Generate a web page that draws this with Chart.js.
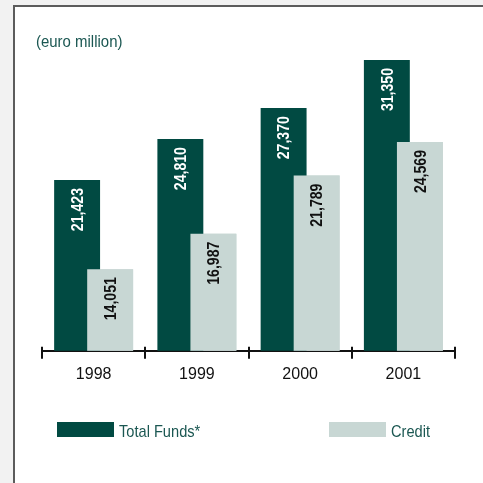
<!DOCTYPE html>
<html>
<head>
<meta charset="utf-8">
<script src="https://cdn.jsdelivr.net/npm/chart.js@4"></script>
<style>
  html, body { margin: 0; padding: 0; width: 483px; height: 483px; overflow: hidden; background: #f2f2f2; }
  #panel { position: absolute; left: 13px; top: 5px; right: 0; bottom: 0; background: #fff;
           border-left: 2px solid #5c5c5c; border-top: 2px solid #5c5c5c; }
  #chart { position: absolute; left: 0; top: 0; }
</style>
</head>
<body>
<div id="panel"></div>
<canvas id="chart" width="483" height="483"></canvas>
<script>
// Yearly totals, euro million
const years = ['1998', '1999', '2000', '2001'];
const totalFunds = [21423, 24810, 27370, 31350];
const credit = [14051, 16987, 21789, 24569];
const seriesNames = ['Total Funds*', 'Credit'];
const unitLabel = '(euro million)';

const DARK = '#014a42';
const LIGHT = '#c8d7d4';
const TEAL_TEXT = '#1b5752';
const SANS = '"Liberation Sans", Arial, sans-serif';

const fmt = v => v.toLocaleString('en-US');

// Draw text horizontally condensed (narrow-face look) at the given origin
function narrowText(ctx, text, x, y, squeeze) {
  ctx.save();
  ctx.translate(x, y);
  ctx.scale(squeeze, 1);
  ctx.fillText(text, 0, 0);
  ctx.restore();
}

// Credit bars sit in front of the funds bars they overlap,
// then each bar gets its rotated value label just inside its top
const barsFrontAndLabels = {
  id: 'barsFrontAndLabels',
  afterDatasetsDraw(chart) {
    const ctx = chart.ctx;
    const area = chart.chartArea;
    ctx.save();
    ctx.beginPath();
    ctx.rect(area.left, area.top, area.right - area.left, area.bottom - area.top);
    ctx.clip();
    chart.getDatasetMeta(1).controller.draw();
    ctx.restore();

    chart.data.datasets.forEach((ds, di) => {
      const meta = chart.getDatasetMeta(di);
      meta.data.forEach((bar, i) => {
        ctx.save();
        ctx.translate(bar.x + 1, bar.y + 8);
        ctx.rotate(-Math.PI / 2);
        ctx.font = 'bold 17px ' + SANS;
        ctx.fillStyle = di === 0 ? '#ffffff' : '#111111';
        ctx.textAlign = 'right';
        ctx.textBaseline = 'middle';
        narrowText(ctx, fmt(ds.data[i]), 0, 0, 0.83);
        ctx.restore();
      });
    });
  }
};

// Short tick marks across the baseline at every category boundary
const boundaryTicks = {
  id: 'boundaryTicks',
  afterDraw(chart) {
    const x = chart.scales.x;
    const ctx = chart.ctx;
    const n = x.ticks.length;
    const y = chart.chartArea.bottom;
    ctx.save();
    ctx.strokeStyle = '#111';
    ctx.lineWidth = 2;
    for (let i = 0; i <= n; i++) {
      const px = Math.round(x.left + (x.width * i) / n);
      ctx.beginPath();
      ctx.moveTo(px, y - 4);
      ctx.lineTo(px, y + 8);
      ctx.stroke();
    }
    ctx.restore();
  }
};

// Unit caption and legend drawn on the canvas
const captionAndLegend = {
  id: 'captionAndLegend',
  afterDraw(chart) {
    const ctx = chart.ctx;
    ctx.save();
    ctx.font = '17px ' + SANS;
    ctx.fillStyle = TEAL_TEXT;
    ctx.textAlign = 'left';
    ctx.textBaseline = 'middle';
    narrowText(ctx, unitLabel, 36, 42, 0.88);

    const itemX = [57, 329];
    chart.data.datasets.forEach((ds, di) => {
      ctx.fillStyle = ds.backgroundColor;
      ctx.fillRect(itemX[di], 422, 57, 15);
      ctx.fillStyle = TEAL_TEXT;
      narrowText(ctx, ds.label, itemX[di] + 62, 432, 0.86);
    });
    ctx.restore();
  }
};

new Chart(document.getElementById('chart'), {
  type: 'bar',
  data: {
    labels: years,
    datasets: [
      { label: seriesNames[0], data: totalFunds, backgroundColor: DARK,
        barPercentage: 1.39, categoryPercentage: 0.64 },
      { label: seriesNames[1], data: credit, backgroundColor: LIGHT,
        barPercentage: 1.39, categoryPercentage: 0.64 }
    ]
  },
  options: {
    responsive: false,
    animation: false,
    layout: { padding: { left: 42, right: 28, top: 40, bottom: 85 } },
    plugins: { legend: { display: false }, tooltip: { enabled: false }, title: { display: false } },
    scales: {
      x: {
        grid: { display: false, drawTicks: false },
        border: { display: true, color: '#111', width: 2 },
        ticks: { color: '#111', font: { family: SANS, size: 16 }, padding: 14 }
      },
      y: {
        display: false,
        min: 7300,
        max: 33000
      }
    }
  },
  plugins: [barsFrontAndLabels, boundaryTicks, captionAndLegend]
});
</script>
</body>
</html>
